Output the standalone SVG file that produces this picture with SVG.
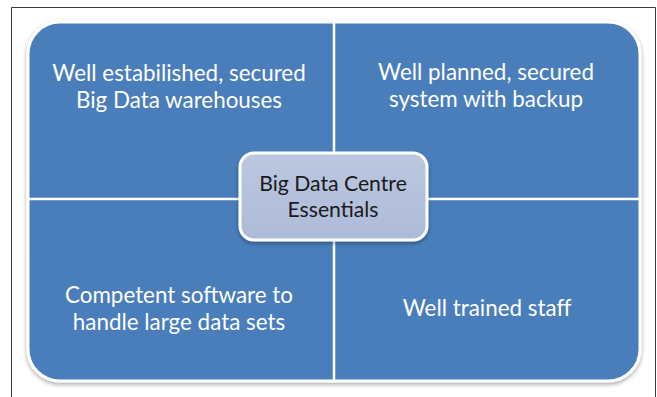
<svg xmlns="http://www.w3.org/2000/svg" width="657" height="397" viewBox="0 0 657 397">
  <style>
    .q { font-family: Lato, "Open Sans", sans-serif; font-size: 22.4px; fill: #ffffff; text-anchor: middle; }
    .c { font-family: Lato, "Open Sans", sans-serif; font-size: 21.2px; fill: #1a1a1a; text-anchor: middle; }
    .div { stroke: #ffffff; stroke-width: 2.5; }
  </style>
  <defs>
    <filter id="sh" x="-5%" y="-5%" width="110%" height="115%">
      <feGaussianBlur in="SourceAlpha" stdDeviation="2"/>
      <feOffset dx="0" dy="2" result="b"/>
      <feComponentTransfer><feFuncA type="linear" slope="0.35"/></feComponentTransfer>
      <feMerge><feMergeNode/><feMergeNode in="SourceGraphic"/></feMerge>
    </filter>
    <linearGradient id="cg" x1="0" y1="0" x2="0" y2="1">
      <stop offset="0" stop-color="#bcc7e0"/>
      <stop offset="1" stop-color="#aebbd8"/>
    </linearGradient>
  </defs>
  <rect width="657" height="397" fill="#ffffff"/>
  <path d="M11.5 397 V7.5 H655.5 V397" fill="none" stroke="#3a3a3a" stroke-width="1"/>
  <g id="background">
    <rect x="28" y="22" width="612" height="359" rx="32" fill="#4a7ebb" stroke="#ffffff" stroke-width="3" filter="url(#sh)"/>
  </g>
  <g id="connectors">
    <line class="div" x1="334" y1="22" x2="334" y2="381"/>
    <line class="div" x1="28" y1="199" x2="640" y2="199"/>
  </g>
  <g id="q-top-left">
    <text class="q" x="179" y="81">Well estabilished, secured</text>
    <text class="q" x="179" y="108">Big Data warehouses</text>
  </g>
  <g id="q-top-right">
    <text class="q" x="486" y="80">Well planned, secured</text>
    <text class="q" x="486" y="107">system with backup</text>
  </g>
  <g id="q-bottom-left">
    <text class="q" x="179" y="303">Competent software to</text>
    <text class="q" x="179" y="330">handle large data sets</text>
  </g>
  <g id="q-bottom-right">
    <text class="q" x="487" y="316">Well trained staff</text>
  </g>
  <g id="center">
    <rect x="240" y="153" width="187" height="87" rx="14" fill="url(#cg)" stroke="#ffffff" stroke-width="3" filter="url(#sh)"/>
    <text class="c" x="333" y="191">Big Data Centre</text>
    <text class="c" x="333" y="217">Essentials</text>
  </g>
</svg>
